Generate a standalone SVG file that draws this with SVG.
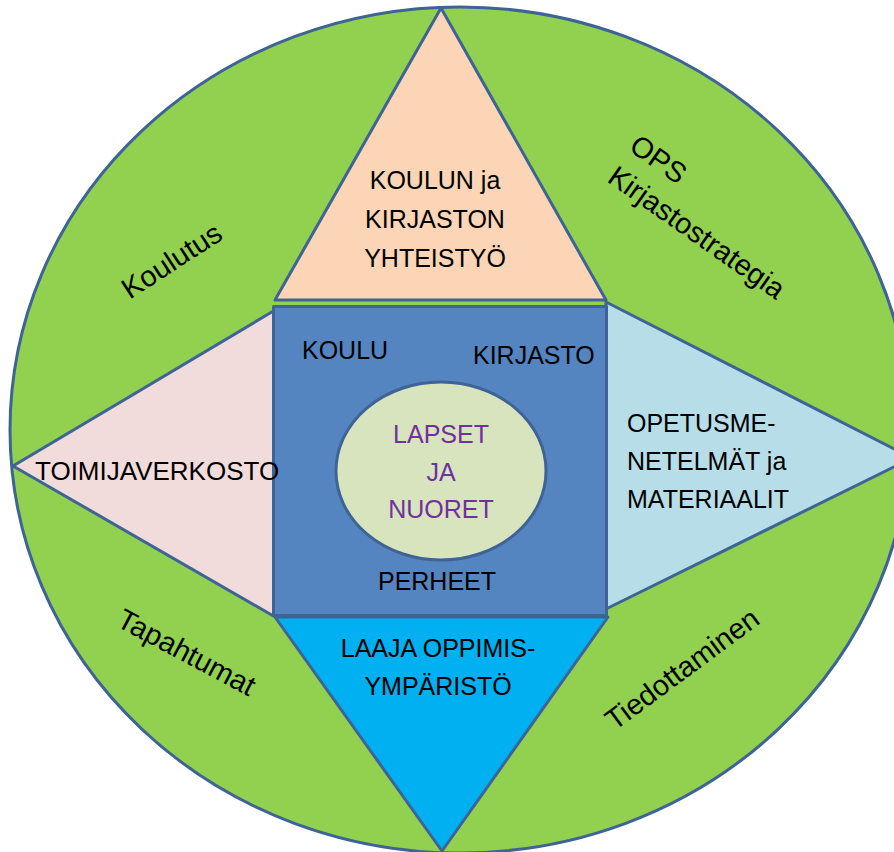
<svg xmlns="http://www.w3.org/2000/svg" width="894" height="852" viewBox="0 0 894 852">
  <style>
    .ln { stroke: #3E6496; stroke-width: 3; stroke-linejoin: round; }
    .t { font-family: "Liberation Sans", Arial, sans-serif; font-size: 25px; fill: #000; }
    .r { font-family: "Liberation Sans", Arial, sans-serif; font-size: 29px; fill: #000; }
    .p { fill: #7030A0; }
  </style>
  <rect width="894" height="852" fill="#ffffff"/>

  <g id="outer-circle">
    <ellipse class="ln" cx="460" cy="430" rx="450" ry="423" fill="#92D050"/>
    <text class="r" transform="translate(177,269) rotate(-33)" text-anchor="middle">Koulutus</text>
    <text class="r" transform="translate(606,181) rotate(35)"><tspan x="0" y="-38">OPS</tspan><tspan x="0" y="0">Kirjastostrategia</tspan></text>
    <text class="r" transform="translate(182,661) rotate(28)" text-anchor="middle">Tapahtumat</text>
    <text class="r" transform="translate(688,677) rotate(-36.5)" text-anchor="middle">Tiedottaminen</text>
  </g>

  <g id="top-triangle">
    <polygon class="ln" points="441,8 606,300 275,300" fill="#FBD5B5"/>
    <text class="t" text-anchor="middle"><tspan x="435" y="189">KOULUN ja</tspan><tspan x="435" y="228">KIRJASTON</tspan><tspan x="435" y="267">YHTEISTYÖ</tspan></text>
  </g>

  <g id="right-triangle">
    <polygon class="ln" points="912,458 606,302 606,609" fill="#B7DEE8"/>
    <text class="t"><tspan x="627" y="432">OPETUSME-</tspan><tspan x="627" y="470">NETELMÄT ja</tspan><tspan x="627" y="508">MATERIAALIT</tspan></text>
  </g>

  <g id="bottom-triangle">
    <polygon class="ln" points="275,617 608,617 442,851" fill="#00B0F0"/>
    <text class="t" text-anchor="middle"><tspan x="438" y="657">LAAJA OPPIMIS-</tspan><tspan x="438" y="695">YMPÄRISTÖ</tspan></text>
  </g>

  <g id="center-square">
    <rect class="ln" x="273.5" y="306.5" width="333" height="309" fill="#5585C0"/>
    <text class="t" x="302" y="359">KOULU</text>
    <text class="t" x="473" y="364">KIRJASTO</text>
    <text class="t" x="437" y="590" text-anchor="middle">PERHEET</text>
  </g>

  <g id="left-triangle">
    <polygon class="ln" points="13,466 273.5,311 273.5,616" fill="#F2DCDB"/>
    <text class="t" x="35" y="480" style="font-size:26px">TOIMIJAVERKOSTO</text>
  </g>

  <g id="inner-ellipse">
    <ellipse class="ln" cx="441" cy="471" rx="105" ry="89" fill="#D7E4BD"/>
    <text class="t p" text-anchor="middle"><tspan x="441" y="443">LAPSET</tspan><tspan x="441" y="481">JA</tspan><tspan x="441" y="518">NUORET</tspan></text>
  </g>
</svg>
